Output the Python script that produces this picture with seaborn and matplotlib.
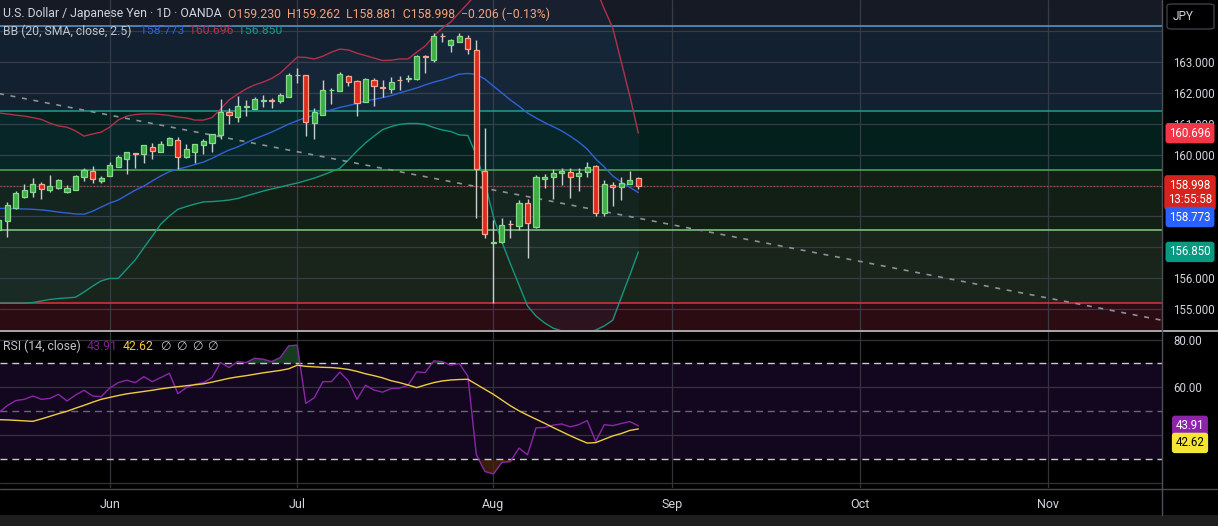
import numpy as np
import pandas as pd
import matplotlib
matplotlib.use('Agg')
import matplotlib.pyplot as plt
import seaborn as sns
from matplotlib import transforms
from matplotlib.patches import Rectangle, FancyBboxPatch
from matplotlib.lines import Line2D

# ---- data (USD/JPY daily, OANDA) ----
opens = [157.56, 157.85, 158.28, 158.64, 158.80, 159.04, 158.86, 158.91, 158.78, 158.86,
         159.27, 159.47, 159.16, 159.32, 159.61, 159.85, 160.05, 160.01, 160.24, 160.09,
         160.30, 160.47, 159.91, 160.09, 160.30, 160.39, 160.64, 161.38, 161.23, 161.55,
         161.49, 161.75, 161.76, 161.73, 161.88, 162.57, 162.57, 161.03, 161.27, 162.08,
         162.07, 162.54, 162.38, 161.69, 162.41, 162.19, 162.14, 162.43, 162.44, 162.45,
         163.18, 163.06, 163.85, 163.56, 163.66, 163.77, 163.39, 159.47, 157.15, 157.16,
         157.76, 157.70, 158.42, 157.67, 159.20, 159.27, 159.40, 159.45, 159.32, 159.45,
         159.63, 158.12, 159.02, 158.96, 159.05, 159.230]
highs = [157.95, 158.48, 158.82, 159.05, 159.23, 159.12, 159.34, 159.20, 159.01, 159.34,
         159.58, 159.63, 159.31, 159.75, 159.99, 160.09, 160.06, 160.31, 160.37, 160.44,
         160.58, 160.58, 160.34, 160.36, 160.51, 160.67, 161.80, 161.50, 161.91, 161.77,
         161.87, 161.93, 161.82, 161.99, 162.63, 162.80, 162.58, 161.50, 162.42, 162.17,
         162.67, 162.58, 162.42, 162.47, 162.47, 162.42, 162.50, 162.56, 162.58, 163.23,
         163.23, 163.93, 163.93, 163.74, 163.93, 163.87, 163.71, 160.85, 157.88, 157.94,
         157.88, 158.53, 158.55, 159.34, 159.37, 159.52, 159.57, 159.57, 159.57, 159.75,
         159.65, 159.18, 159.10, 159.27, 159.48, 159.262]
lows = [157.36, 157.32, 158.24, 158.60, 158.64, 158.56, 158.80, 158.89, 158.76, 158.85,
        159.16, 159.09, 159.09, 159.31, 159.60, 159.36, 159.58, 159.72, 159.85, 160.09,
        160.30, 159.52, 159.90, 159.74, 160.01, 160.09, 160.50, 160.98, 161.07, 161.25,
        161.48, 161.55, 161.52, 161.68, 161.87, 162.31, 160.60, 160.50, 161.27, 161.64,
        162.06, 162.23, 161.26, 161.69, 161.58, 161.88, 161.99, 162.09, 162.34, 162.42,
        162.65, 162.99, 163.66, 163.33, 163.65, 163.26, 157.96, 157.29, 155.18, 157.15,
        157.29, 157.56, 156.66, 157.63, 158.93, 158.55, 159.02, 158.60, 158.82, 159.28,
        158.02, 158.02, 158.35, 158.53, 159.04, 158.881]
closes = [157.88, 158.37, 158.75, 158.85, 159.04, 158.90, 158.97, 159.17, 158.92, 159.30,
          159.49, 159.22, 159.23, 159.66, 159.91, 160.08, 160.03, 160.30, 160.13, 160.33,
          160.53, 159.93, 160.19, 160.34, 160.44, 160.66, 161.39, 161.27, 161.57, 161.57,
          161.80, 161.76, 161.74, 161.93, 162.58, 162.58, 161.07, 161.38, 162.09, 162.09,
          162.61, 162.36, 161.66, 162.44, 162.23, 162.17, 162.34, 162.41, 162.48, 163.19,
          163.16, 163.84, 163.83, 163.71, 163.84, 163.41, 159.52, 157.42, 157.16, 157.72,
          157.74, 158.42, 157.78, 159.27, 159.28, 159.40, 159.48, 159.28, 159.41, 159.59,
          158.12, 159.04, 158.94, 159.07, 159.18, 158.998]

# Bollinger Bands (20, SMA, close, 2.5)
bb_upper = [161.35, 161.32, 161.28, 161.25, 161.20, 161.14, 161.02, 160.93, 160.89, 160.77,
            160.60, 160.67, 160.73, 160.89, 161.12, 161.25, 161.30, 161.32, 161.32, 161.30,
            161.27, 161.22, 161.19, 161.12, 161.12, 161.20, 161.48, 161.77, 161.96, 162.13,
            162.26, 162.35, 162.47, 162.64, 162.90, 163.16, 163.15, 163.10, 163.19, 163.32,
            163.42, 163.39, 163.29, 163.21, 163.13, 163.05, 163.06, 163.10, 163.10, 163.32,
            163.52, 163.84, 164.10, 164.30, 164.60, 164.90, 165.21, 165.79, 166.46, 166.83,
            167.08, 167.36, 167.60, 167.61, 167.53, 167.44, 167.25, 166.98, 166.63, 166.14,
            165.40, 164.72, 164.10, 163.00, 161.90, 160.696]
bb_mid = [158.26, 158.26, 158.25, 158.24, 158.23, 158.21, 158.18, 158.14, 158.11, 158.08,
          158.07, 158.17, 158.30, 158.43, 158.53, 158.69, 158.85, 158.98, 159.15, 159.31,
          159.45, 159.53, 159.60, 159.68, 159.76, 159.88, 160.02, 160.15, 160.25, 160.38,
          160.51, 160.62, 160.73, 160.86, 160.99, 161.10, 161.20, 161.28, 161.38, 161.45,
          161.53, 161.59, 161.66, 161.74, 161.79, 161.85, 161.91, 162.00, 162.08, 162.16,
          162.26, 162.35, 162.42, 162.51, 162.61, 162.63, 162.60, 162.45, 162.22, 162.00,
          161.77, 161.57, 161.35, 161.19, 161.04, 160.91, 160.77, 160.60, 160.41, 160.18,
          159.86, 159.60, 159.31, 159.11, 158.94, 158.773]
bb_lower = [155.19, 155.19, 155.19, 155.19, 155.21, 155.26, 155.31, 155.34, 155.36, 155.38,
            155.55, 155.74, 155.91, 155.99, 155.99, 156.29, 156.59, 156.98, 157.36, 157.75,
            158.01, 158.23, 158.32, 158.40, 158.47, 158.48, 158.50, 158.53, 158.58, 158.66,
            158.74, 158.82, 158.89, 158.95, 159.02, 159.08, 159.16, 159.24, 159.34, 159.45,
            159.56, 159.83, 160.12, 160.38, 160.60, 160.81, 160.91, 160.98, 161.01, 161.01,
            160.98, 160.88, 160.80, 160.75, 160.64, 160.62, 159.99, 159.11, 157.98, 157.17,
            156.46, 155.78, 155.10, 154.77, 154.55, 154.38, 154.29, 154.22, 154.19, 154.22,
            154.32, 154.45, 154.64, 155.38, 156.10, 156.850]

# RSI (14) and its moving average
rsi = [49.4, 52.4, 54.5, 55.0, 56.4, 55.0, 55.4, 57.1, 54.3, 56.8,
       58.8, 56.4, 56.1, 59.7, 62.0, 63.0, 62.0, 64.5, 62.4, 64.1,
       65.9, 57.4, 59.9, 61.3, 62.0, 64.1, 70.4, 68.3, 70.8, 70.4,
       72.2, 71.8, 70.8, 72.5, 77.4, 77.7, 53.3, 55.7, 62.4, 62.4,
       66.4, 62.7, 55.0, 60.9, 58.9, 58.0, 59.5, 59.7, 60.9, 66.5,
       66.2, 71.1, 70.8, 69.3, 70.0, 64.8, 31.8, 24.8, 23.8, 28.6,
       29.0, 34.6, 31.8, 43.1, 43.2, 44.2, 44.7, 43.5, 44.4, 46.1,
       37.4, 44.4, 44.0, 44.9, 45.7, 43.91]
rsi_ma = [46.5, 46.4, 46.2, 46.0, 45.8, 46.8, 47.9, 49.0, 50.0, 51.3,
          52.5, 53.8, 55.0, 55.8, 56.6, 57.3, 57.8, 58.3, 58.8, 59.4,
          59.9, 60.3, 60.7, 61.1, 61.5, 62.2, 63.0, 63.8, 64.4, 64.9,
          65.5, 66.1, 66.6, 67.1, 67.8, 69.3, 68.8, 68.6, 68.4, 68.3,
          68.0, 67.5, 66.7, 65.7, 64.9, 64.0, 62.8, 62.0, 61.0, 59.9,
          61.0, 62.0, 62.7, 63.1, 63.3, 63.4, 61.3, 59.2, 57.1, 54.7,
          52.3, 50.2, 48.4, 46.7, 45.0, 43.2, 41.5, 39.8, 38.2, 36.7,
          36.9, 38.3, 39.7, 40.7, 42.0, 42.62]

# drawn levels
fib_levels = [155.21, 157.56, 159.50, 161.40, 164.17]
fib_colors = ['#e0323f', '#86c987', '#4caf50', '#1f9e8e', '#5d9ad4']
zone_edges = [150.0, 155.21, 157.56, 159.50, 161.40, 164.17, 170.0]
zone_colors = ['#2b0c12', '#19241a', '#121f15', '#04201d', '#13202f', '#161a25']
trend_x = [0, 136.5]
trend_y = [161.98, 154.63]
last_price = 158.998

month_ticks = [13, 35, 58, 79, 101, 123]
month_labels = ['Jun', 'Jul', 'Aug', 'Sep', 'Oct', 'Nov']
price_ticks = [155, 156, 157, 158, 159, 160, 161, 162, 163, 164]
price_labels = ['155.000', '156.000', '', '', '', '160.000', '161.000', '162.000', '163.000', '']
rsi_ticks = [20, 40, 60, 80]
rsi_labels = ['', '', '60.00', '80.00']

# ---- figure ----
sns.set_theme(style='dark')
plt.rcParams['font.family'] = ['Roboto', 'DejaVu Sans']

W, H = 1218, 526
fig = plt.figure(figsize=(W / 100, H / 100), dpi=100, facecolor='black')


def fx(px):
    return px / W


def fy(py):
    return 1 - py / H


ax = fig.add_axes([0, fy(330), fx(1162), 330 / H])
ax_rsi = fig.add_axes([0, fy(488), fx(1162), (488 - 331) / H], sharex=ax)

df = pd.DataFrame({'bar': np.arange(len(closes)), 'open': opens, 'high': highs,
                   'low': lows, 'close': closes, 'upper': bb_upper, 'mid': bb_mid,
                   'lower': bb_lower, 'rsi': rsi, 'rsi_ma': rsi_ma})
up = df['close'] >= df['open']

# background zones + fib lines
for lo, hi, c in zip(zone_edges[:-1], zone_edges[1:], zone_colors):
    ax.axhspan(lo, hi, color=c, lw=0, zorder=0.1)
for lvl, c in zip(fib_levels, fib_colors):
    ax.axhline(lvl, color=c, lw=1.1, zorder=1.5)

# bollinger fill and lines
ax.fill_between(df['bar'], df['lower'], df['upper'], color='#3fa0f0', alpha=0.05, lw=0, zorder=1)
sns.lineplot(data=df, x='bar', y='upper', ax=ax, color='#b3304a', lw=1, legend=False, zorder=2)
sns.lineplot(data=df, x='bar', y='mid', ax=ax, color='#2f62d6', lw=1, legend=False, zorder=2)
sns.lineplot(data=df, x='bar', y='lower', ax=ax, color='#16967f', lw=1, legend=False, zorder=2)

# trend line + last price line
ax.plot(trend_x, trend_y, color='#8c9097', lw=1.2, dashes=(3, 4), zorder=2)
ax.axhline(last_price, color='#b8503a', lw=0.8, ls=(0, (1, 2)), zorder=1.6)

# candles
ax.vlines(df['bar'], df['low'], df['high'], color='#c9cdd1', lw=1, zorder=3)
body_lo = np.minimum(df['open'], df['close'])
body_h = np.maximum(np.abs(df['close'] - df['open']), 0.01)
ax.bar(df['bar'], body_h, bottom=body_lo, width=0.6,
       color=np.where(up, '#3fae47', '#df2a20'),
       edgecolor=np.where(up, '#86d98a', '#f7a58b'), linewidth=0.9, zorder=4)

ax.set_xlim(0.144, 136.4)
ax.set_ylim(154.32, 165.01)
ax.set_yticks(price_ticks, price_labels)
ax.yaxis.tick_right()
ax.set_axisbelow(True)
ax.grid(True, color='#363b45', lw=0.9)
ax.tick_params(axis='y', colors='#d1d4dc', labelsize=8.3, length=0, pad=8)
ax.tick_params(axis='x', labelbottom=False, length=0)
ax.set_xlabel('')
ax.set_ylabel('')
for s in ax.spines.values():
    s.set_visible(False)

# ---- RSI pane ----
ax_rsi.set_facecolor('black')
ax_rsi.axhspan(30, 70, color='#12071e', lw=0, zorder=0.1)
r = df['rsi'].to_numpy()
ax_rsi.fill_between(df['bar'], r, 70, where=r > 70, interpolate=True, color='#1d4a2a', alpha=0.8, lw=0, zorder=1)
ax_rsi.fill_between(df['bar'], r, 30, where=r < 30, interpolate=True, color='#4a250e', alpha=0.8, lw=0, zorder=1)
ax_rsi.axhline(70, color='#c9c9d2', lw=1, dashes=(5, 3.5), zorder=1.5)
ax_rsi.axhline(50, color='#6b6677', lw=1, dashes=(5, 3.5), zorder=1.5)
ax_rsi.axhline(30, color='#c9c9d2', lw=1, dashes=(5, 3.5), zorder=1.5)
sns.lineplot(data=df, x='bar', y='rsi', ax=ax_rsi, color='#8a27a6', lw=1, legend=False, zorder=3)
sns.lineplot(data=df, x='bar', y='rsi_ma', ax=ax_rsi, color='#f0cd40', lw=1, legend=False, zorder=3)
ax_rsi.set_ylim(17.9, 83.6)
ax_rsi.set_yticks(rsi_ticks, rsi_labels)
ax_rsi.yaxis.tick_right()
ax_rsi.set_xticks(month_ticks, month_labels)
ax_rsi.set_axisbelow(True)
ax_rsi.grid(True, color='#34323d', lw=0.9)
ax_rsi.tick_params(axis='y', colors='#d1d4dc', labelsize=8.3, length=0, pad=8)
ax_rsi.tick_params(axis='x', colors='#d1d4dc', labelsize=9, length=0, pad=7)
ax_rsi.set_xlabel('')
ax_rsi.set_ylabel('')
for s in ax_rsi.spines.values():
    s.set_visible(False)
ax.set_xticks(month_ticks)

# pane separators and bottom strip
fig.add_artist(Line2D([0, 1], [fy(330.5), fy(330.5)], color='#c4c4c4', lw=1.2, transform=fig.transFigure))
fig.add_artist(Line2D([0, 1], [fy(488.5), fy(488.5)], color='#4a4a4a', lw=1, transform=fig.transFigure))
fig.add_artist(Line2D([fx(1162), fx(1162)], [fy(0), fy(515)], color='#4d505a', lw=1, transform=fig.transFigure))
fig.add_artist(Rectangle((0, 0), 1, 11 / H, transform=fig.transFigure, color='#1e1e1e', lw=0))
fig.add_artist(FancyBboxPatch((fx(1167), fy(29)), fx(47), 25 / H, boxstyle='round,pad=0,rounding_size=0.004',
                              transform=fig.transFigure, fc='black', ec='#3b3e48', lw=1))
fig.text(fx(1183), fy(16), 'JPY', color='#d1d4dc', fontsize=8.5, ha='center', va='center')


# price tags on the right scale
def tag(axis, value, text, fc, tc='white', dy=0):
    tr = transforms.blended_transform_factory(fig.transFigure, axis.transData)
    if dy:
        tr = transforms.offset_copy(tr, fig=fig, y=dy, units='dots')
    axis.text(fx(1190), value, text, transform=tr, ha='center', va='center', color=tc,
              fontsize=8.3, linespacing=1.15, clip_on=False, zorder=10,
              bbox=dict(boxstyle='round,pad=0.32,rounding_size=0.25', fc=fc, ec='none'))


tag(ax, bb_upper[-1], '160.696', '#f23645')
tag(ax, last_price, '158.998\n13:55:58', '#d8231c', dy=-7)
tag(ax, bb_mid[-1], '158.773', '#2962ff', dy=-24.5)
tag(ax, bb_lower[-1], '156.850', '#089981')
tag(ax_rsi, rsi[-1], '43.91', '#8e24aa')
tag(ax_rsi, rsi_ma[-1], '42.62', '#f5e534', tc='black', dy=-14)

# legends / header
fs = 8.8
fig.text(fx(3), fy(14), 'U.S. Dollar / Japanese Yen · 1D · OANDA', color='#d1d4dc', fontsize=fs, va='center')
fig.text(fx(228), fy(14), 'O159.230  H159.262  L158.881  C158.998  −0.206 (−0.13%)', color='#f2a27c',
         fontsize=fs, va='center')
fig.text(fx(3), fy(31), 'BB (20, SMA, close, 2.5)', color='#c3c6ce', fontsize=fs, va='center')
fig.text(fx(140), fy(31), '158.773', color='#2d5fd8', fontsize=fs, va='center')
fig.text(fx(189), fy(31), '160.696', color='#b3304a', fontsize=fs, va='center')
fig.text(fx(238), fy(31), '156.850', color='#16967f', fontsize=fs, va='center')
fig.text(fx(3), fy(346), 'RSI (14, close)', color='#c3c6ce', fontsize=fs, va='center')
fig.text(fx(87), fy(346), '43.91', color='#7d1f9a', fontsize=fs, va='center')
fig.text(fx(123), fy(346), '42.62', color='#f0cd40', fontsize=fs, va='center')
for xp in [160, 176, 192, 207]:
    fig.text(fx(xp), fy(346), '∅', color='#c3c6ce', fontsize=fs, va='center')

fig.savefig('out.png', dpi=100, facecolor='black')
